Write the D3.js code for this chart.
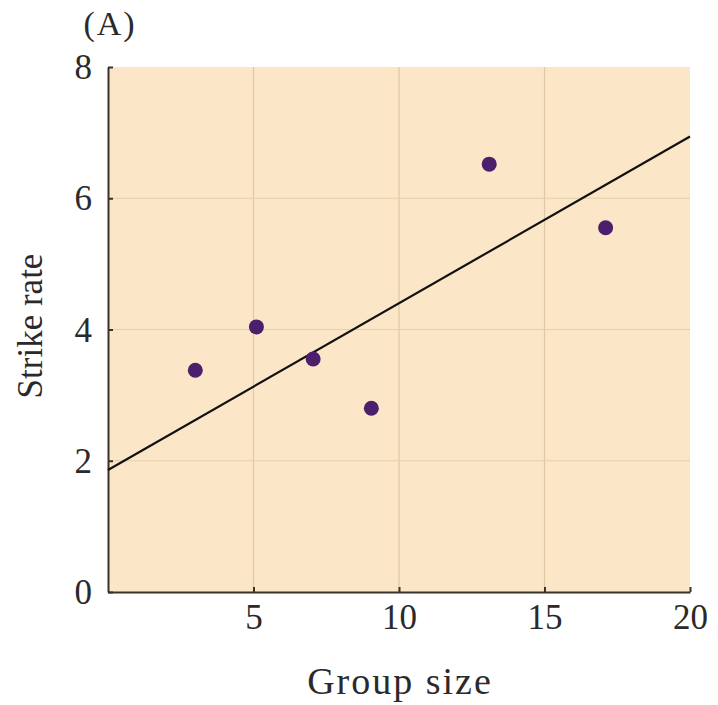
<!DOCTYPE html>
<html>
<head>
<meta charset="utf-8">
<script src="https://cdn.jsdelivr.net/npm/d3@7"></script>
<style>
  body { margin: 0; background: #fff; }
  text { font-family: "Liberation Serif", "DejaVu Serif", serif; fill: #2a2a2a; }
</style>
</head>
<body>
<div id="chart"></div>
<script>
// Data
const groupSize = [3, 5.1, 7.05, 9.05, 13.1, 17.1];
const strikeRate = [3.38, 4.04, 3.55, 2.8, 6.52, 5.55];
const fitLine = [[0, 1.86], [20, 6.94]];
const xTicks = [5, 10, 15, 20];
const yTicks = [0, 2, 4, 6, 8];

const width = 718, height = 705;
const margin = { left: 108, right: 28, top: 67, bottom: 113 };

const svg = d3.select("#chart").append("svg")
    .attr("width", width)
    .attr("height", height);

const x = d3.scaleLinear().domain([0, 20]).range([margin.left, width - margin.right]);
const y = d3.scaleLinear().domain([0, 8]).range([height - margin.bottom, margin.top]);

// background panel
svg.append("rect")
    .attr("x", x(0)).attr("y", y(8))
    .attr("width", x(20) - x(0)).attr("height", y(0) - y(8))
    .attr("fill", "#fce6c8");

// grid lines
svg.selectAll(".vgrid").data([5, 10, 15]).enter().append("line")
    .attr("x1", d => x(d)).attr("x2", d => x(d))
    .attr("y1", y(0)).attr("y2", y(8))
    .attr("stroke", "#e0c8a4").attr("stroke-width", 1.2);
svg.selectAll(".hgrid").data([2, 4, 6]).enter().append("line")
    .attr("x1", x(0)).attr("x2", x(20))
    .attr("y1", d => y(d)).attr("y2", d => y(d))
    .attr("stroke", "#e4cfad").attr("stroke-width", 1.2);

// axes
const xAxis = svg.append("g")
    .attr("transform", `translate(0,${y(0)})`)
    .call(d3.axisBottom(x).tickValues(xTicks).tickSizeInner(-5).tickSizeOuter(0).tickPadding(12));
const yAxis = svg.append("g")
    .attr("transform", `translate(${x(0)},0)`)
    .call(d3.axisLeft(y).tickValues(yTicks).tickSizeInner(-5).tickSizeOuter(0).tickPadding(16));

[xAxis, yAxis].forEach(g => {
    g.select(".domain").attr("stroke", "#3a3128").attr("stroke-width", 2);
    g.selectAll(".tick line").attr("stroke", "#3a3128").attr("stroke-width", 2);
    g.selectAll(".tick text")
        .attr("font-family", "Liberation Serif, serif")
        .attr("font-size", 35)
        .attr("fill", "#2a2a2a");
});
yAxis.selectAll(".tick text").attr("dy", "0.33em");
xAxis.selectAll(".tick text").attr("dy", "0.71em");

// regression line
svg.append("line")
    .attr("x1", x(fitLine[0][0])).attr("y1", y(fitLine[0][1]))
    .attr("x2", x(fitLine[1][0])).attr("y2", y(fitLine[1][1]))
    .attr("stroke", "#111").attr("stroke-width", 2.2);

// points
svg.selectAll(".dot").data(groupSize).enter().append("circle")
    .attr("cx", d => x(d))
    .attr("cy", (d, i) => y(strikeRate[i]))
    .attr("r", 7.5)
    .attr("fill", "#4b1f6b");

// labels
svg.append("text")
    .attr("x", 110).attr("y", 35)
    .attr("text-anchor", "middle")
    .attr("font-size", 34)
    .attr("letter-spacing", 2)
    .text("(A)");

svg.append("text")
    .attr("x", 400).attr("y", 694)
    .attr("text-anchor", "middle")
    .attr("font-size", 38)
    .attr("letter-spacing", 2)
    .text("Group size");

svg.append("text")
    .attr("transform", `translate(42,${326}) rotate(-90)`)
    .attr("text-anchor", "middle")
    .attr("font-size", 35)
    .text("Strike rate");
</script>
</body>
</html>
